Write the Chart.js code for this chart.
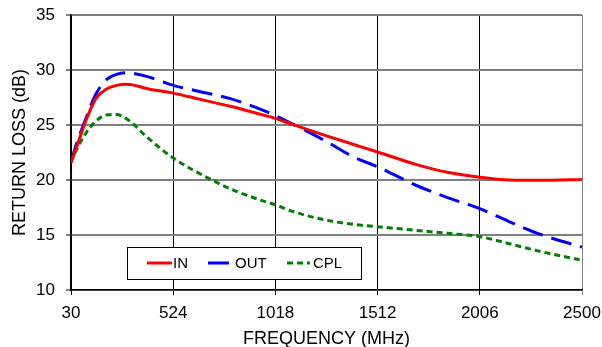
<!DOCTYPE html>
<html>
<head>
<meta charset="utf-8">
<script src="https://cdn.jsdelivr.net/npm/chart.js@4/dist/chart.umd.min.js"></script>
<style>
  html, body { margin: 0; padding: 0; background: #fff; }
  #wrap { width: 602px; height: 347px; }
</style>
</head>
<body>
<div id="wrap"><canvas id="myChart" width="602" height="347"></canvas></div>
<script>
// frequencies (MHz) where the curves were read
var freqs = [30, 50, 100, 150, 200, 250, 300, 400, 524, 650, 800, 950, 1018, 1100, 1250, 1400, 1512, 1700, 1850, 2006, 2150, 2300, 2500];

// return loss values (dB)
var inLoss  = [21.6, 22.6, 25.3, 27.4, 28.25, 28.6, 28.7, 28.3, 27.9, 27.35, 26.7, 25.95, 25.6, 25.05, 24.1, 23.2, 22.55, 21.4, 20.7, 20.25, 20.0, 19.97, 20.05];
var outLoss = [21.6, 22.9, 25.5, 27.8, 29.1, 29.6, 29.75, 29.4, 28.6, 28.05, 27.4, 26.4, 25.85, 25.1, 23.65, 22.05, 21.2, 19.5, 18.4, 17.4, 16.2, 15.05, 13.9];
var cplLoss = [21.6, 22.5, 24.2, 25.35, 25.9, 25.95, 25.55, 23.85, 22.0, 20.6, 19.2, 18.15, 17.75, 17.15, 16.4, 15.95, 15.75, 15.42, 15.15, 14.85, 14.2, 13.5, 12.7];

// axis ticks
var xTicks = [30, 524, 1018, 1512, 2006, 2500];
var yMin = 10, yMax = 35, yStep = 5;

var seriesNames = ['IN', 'OUT', 'CPL'];

var fontFamily = '"Liberation Sans", Arial, sans-serif';

function toPoints(values) {
    return values.map(function (v, i) { return { x: freqs[i], y: v }; });
}

// legend box drawn inside the plot
var boxLegend = {
    id: 'boxLegend',
    afterDraw: function (chart, args, opts) {
        var c = chart.ctx;
        c.save();
        c.fillStyle = '#fff';
        c.fillRect(opts.x, opts.y, opts.w, opts.h);
        c.strokeStyle = '#000';
        c.lineWidth = 1;
        c.strokeRect(opts.x + 0.5, opts.y + 0.5, opts.w, opts.h);
        var midY = opts.y + opts.h / 2;
        c.font = '15px ' + fontFamily;
        c.textBaseline = 'middle';
        chart.data.datasets.forEach(function (ds, i) {
            var it = opts.items[i];
            c.beginPath();
            c.strokeStyle = ds.borderColor;
            c.lineWidth = 3;
            c.setLineDash(ds.borderDash || []);
            c.moveTo(it.x0, midY);
            c.lineTo(it.x1, midY);
            c.stroke();
            c.setLineDash([]);
            c.fillStyle = '#000';
            c.fillText(ds.label, it.tx, midY + 1);
        });
        c.restore();
    }
};

var ctx = document.getElementById('myChart');

var config = {
    type: 'line',
    data: {
        datasets: [{
            label: seriesNames[0],
            data: toPoints(inLoss),
            borderColor: '#ff0000',
            borderWidth: 3,
            cubicInterpolationMode: 'monotone'
        }, {
            label: seriesNames[1],
            data: toPoints(outLoss),
            borderColor: '#0000ff',
            borderWidth: 3,
            borderDash: [21, 9],
            cubicInterpolationMode: 'monotone'
        }, {
            label: seriesNames[2],
            data: toPoints(cplLoss),
            borderColor: '#008000',
            borderWidth: 3,
            borderDash: [6, 4],
            cubicInterpolationMode: 'monotone'
        }]
    },
    options: {
        responsive: false,
        animation: false,
        layout: { padding: { top: 15, right: 20, left: 0, bottom: 0 } },
        elements: { point: { radius: 0 } },
        plugins: {
            legend: { display: false },
            tooltip: { enabled: false },
            boxLegend: {
                x: 127, y: 247, w: 234, h: 32,
                items: [
                    { x0: 147, x1: 172, tx: 173 },
                    { x0: 208, x1: 229, tx: 235 },
                    { x0: 287, x1: 310, tx: 313 }
                ]
            }
        },
        scales: {
            x: {
                type: 'linear',
                min: xTicks[0],
                max: xTicks[xTicks.length - 1],
                afterBuildTicks: function (scale) {
                    scale.ticks = xTicks.map(function (v) { return { value: v }; });
                },
                afterFit: function (scale) {
                    scale.height = 57;
                    scale.paddingLeft = 0;
                    scale.paddingRight = 0;
                },
                grid: {
                    color: function (c) { return c.index === xTicks.length - 1 ? '#808080' : '#000'; },
                    lineWidth: 1,
                    tickLength: 5
                },
                border: { color: '#000', width: 1.5 },
                ticks: {
                    color: '#000',
                    padding: 8,
                    maxRotation: 0,
                    autoSkip: false,
                    callback: function (v) { return String(v); },
                    font: { family: fontFamily, size: 17 }
                },
                title: {
                    display: true,
                    text: 'FREQUENCY (MHz)',
                    color: '#000',
                    padding: { top: 0, bottom: -3 },
                    font: { family: fontFamily, size: 18 }
                }
            },
            y: {
                min: yMin,
                max: yMax,
                afterFit: function (scale) {
                    scale.width = 71;
                    scale.paddingTop = 0;
                    scale.paddingBottom = 0;
                },
                ticks: {
                    stepSize: yStep,
                    color: '#000',
                    padding: 11,
                    callback: function (v) { return String(v); },
                    font: { family: fontFamily, size: 17 }
                },
                grid: { color: '#808080', lineWidth: 2, tickLength: 5 },
                border: { color: '#000', width: 1.5 },
                title: {
                    display: true,
                    text: 'RETURN LOSS (dB)',
                    color: '#000',
                    padding: { top: 9 },
                    font: { family: fontFamily, size: 18 }
                }
            }
        }
    },
    plugins: [boxLegend]
};

var chart = new Chart(ctx, config);
</script>
</body>
</html>
